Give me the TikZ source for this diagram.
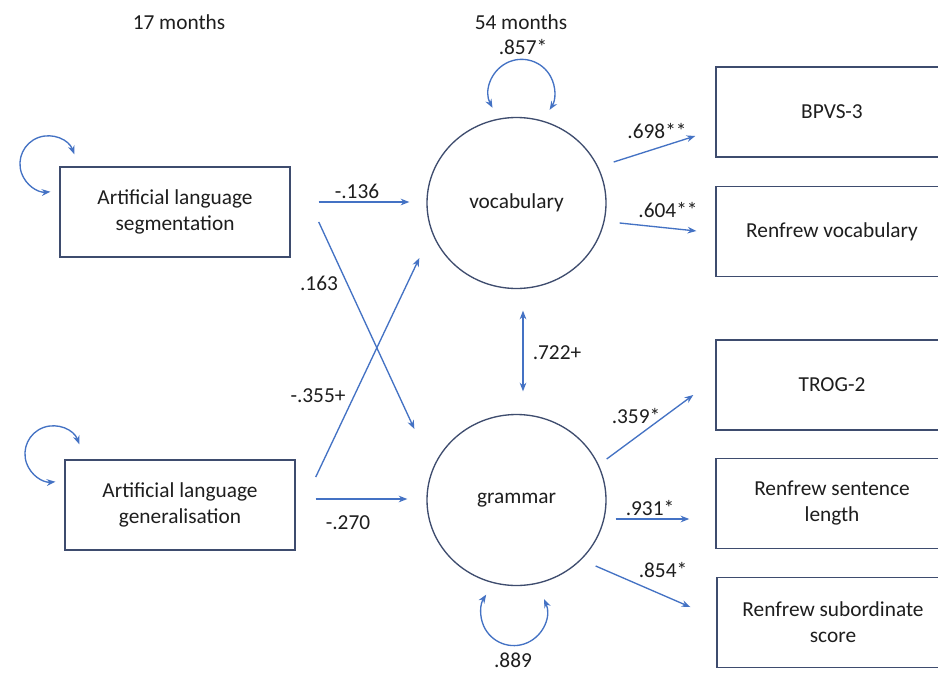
\documentclass[tikz,border=0pt]{standalone}
\usepackage{fontspec}
\setmainfont{Carlito}
\usetikzlibrary{shapes.geometric,calc,arrows.meta}
\definecolor{arrowblue}{HTML}{4472C4}
\definecolor{boxline}{HTML}{3E4C6E}
\definecolor{txt}{HTML}{1E1E1E}
\begin{document}
\begin{tikzpicture}[x=0.75pt,y=-0.75pt,
  font=\fontsize{16}{19.5}\selectfont, text=txt,
  box/.style={draw=boxline, line width=1.1pt, rectangle, minimum width=172.5pt, minimum height=67.5pt, align=center, inner sep=0pt},
  rbox/.style={box, minimum width=174pt},
  latent/.style={draw=boxline, line width=1pt, ellipse, minimum width=134.25pt, minimum height=128.25pt, inner sep=0pt},
  arr/.style={draw=arrowblue, line width=1pt, -{Stealth[length=6.5pt,width=5pt]}},
  darr/.style={draw=arrowblue, line width=1pt, {Stealth[length=6.5pt,width=5pt]}-{Stealth[length=6.5pt,width=5pt]}},
  lbl/.style={inner sep=0pt}]
\useasboundingbox (0,0) rectangle (938,675);
\clip (0,0) rectangle (938,675);
\fill[white] (0,0) rectangle (938,675);

% headings
\node[lbl] (h17) at (179,22) {17 months};
\node[lbl] (h54) at (521,22) {54 months};

% observed predictors
\node[box] (seg) at (175,212) {Artificial language\\segmentation};
\node[box] (gen) at (180,505) {Artificial language\\generalisation};

% latent variables
\node[latent] (voc) at (516.5,203) {vocabulary};
\node[latent] (gram) at (516.5,500) {grammar};

% indicators
\node[rbox] (bpvs) at (832,112) {BPVS-3};
\node[rbox] (rv) at (832,231.5) {Renfrew vocabulary};
\node[rbox] (trog) at (832,385) {TROG-2};
\node[rbox] (rsl) at (832,503.5) {Renfrew sentence\\length};
\node[rbox] (rss) at (833,622.5) {Renfrew subordinate\\score};

% self loops
\draw[darr] ($(seg.north west)+(15,-12)$) arc[start angle=-20, end angle=-275, radius=28];
\draw[darr] ($(gen.north west)+(15,-15)$) arc[start angle=-20, end angle=-275, radius=28];
\draw[darr] ($(voc.north)+(-24,-9)$) arc[start angle=152, end angle=392, radius=33];
\draw[darr] ($(gram.south)+(27.5,13)$) arc[start angle=-24, end angle=213, radius=33];

% structural paths
\draw[arr] ($(seg.east)+(28,-10)$) -- ($(voc.west)+(-17,-1)$);
\draw[arr] ($(seg.east)+(28,10)$) -- ($(gram.west)+(-12,-71)$);
\draw[arr] ($(gen.east)+(20,-28)$) -- ($(voc.west)+(-7,55)$);
\draw[arr] ($(gen.east)+(20,-6)$) -- ($(gram.west)+(-19,-1)$);
\draw[darr] ($(voc.south)+(6.5,21.5)$) -- ($(gram.north)+(6.5,-22.5)$);

% measurement paths
\draw[arr] ($(voc.east)+(7,-41)$) -- ($(bpvs.west)+(-20,24)$);
\draw[arr] ($(voc.east)+(13,20)$) -- ($(rv.west)+(-19,-0.5)$);
\draw[arr] ($(gram.east)+(0,-41)$) -- ($(trog.west)+(-22,10)$);
\draw[arr] ($(gram.east)+(9,19)$) -- ($(rsl.west)+(-26,15.5)$);
\draw[arr] ($(gram.east)+(-11,66)$) -- ($(rss.west)+(-26,-15.5)$);

% coefficients
\node[lbl] (l857) at (523,47) {.857*};
\node[lbl] (l889) at (513,660) {.889};
\node[lbl] (l136) at (357,191) {-.136};
\node[lbl] (l163) at (319,283) {.163};
\node[lbl] (l355) at (318,396) {-.355+};
\node[lbl] (l270) at (348,523) {-.270};
\node[lbl] (l722) at (557,353) {.722+};
\node[lbl] (l698) at (657,131) {.698**};
\node[lbl] (l604) at (668,210) {.604**};
\node[lbl] (l359) at (636,416) {.359*};
\node[lbl] (l931) at (650,508) {.931*};
\node[lbl] (l854) at (663,570) {.854*};
\end{tikzpicture}
\end{document}
